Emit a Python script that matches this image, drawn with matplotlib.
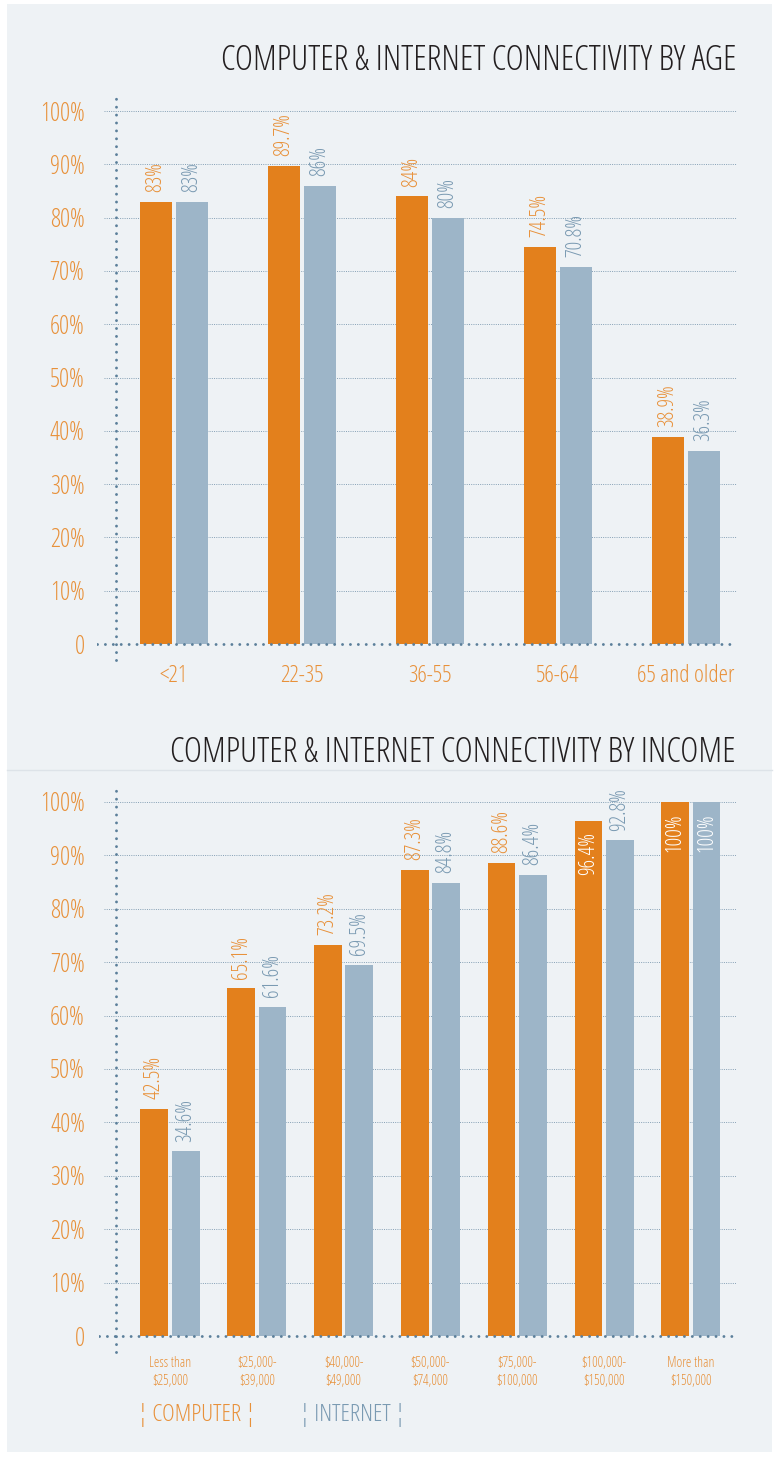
import matplotlib
matplotlib.use('Agg')
import matplotlib.pyplot as plt
from matplotlib.patches import Rectangle
from matplotlib.lines import Line2D
import numpy as np

# Open Sans Condensed Light is registered under "Open Sans"
plt.rcParams['font.family'] = ['Open Sans', 'DejaVu Sans']
plt.rcParams['font.weight'] = 300
plt.rcParams['font.stretch'] = 'condensed'

# data
age_groups = ['<21', '22-35', '36-55', '56-64', '65 and older']
age_computer = [83, 89.7, 84, 74.5, 38.9]
age_internet = [83, 86, 80, 70.8, 36.3]

income_groups = ['Less than\n$25,000', '$25,000-\n$39,000', '$40,000-\n$49,000',
                 '$50,000-\n$74,000', '$75,000-\n$100,000', '$100,000-\n$150,000',
                 'More than\n$150,000']
income_computer = [42.5, 65.1, 73.2, 87.3, 88.6, 96.4, 100]
income_internet = [34.6, 61.6, 69.5, 84.8, 86.4, 92.8, 100]

y_ticks = [0, 10, 20, 30, 40, 50, 60, 70, 80, 90, 100]
y_labels = ['0'] + ['%d%%' % v for v in y_ticks[1:]]

# colours
ORANGE = '#e3801c'
BLUE = '#9db5c8'
ORANGE_TXT = '#e8913a'
BLUE_TXT = '#7a9ab2'
DOTS = '#5b7f9a'
GRID = '#85a0b5'
PANEL = '#eef2f5'

fig = plt.figure(figsize=(7.8, 14.58), dpi=100)
fig.patch.set_facecolor('white')
fig.patches.append(Rectangle((7/780, 1 - 1452/1458), 765/780, 1448/1458,
                             transform=fig.transFigure, facecolor=PANEL,
                             edgecolor='none', zorder=-10))
fig.lines.append(Line2D([7/780, 772/780], [1 - 770/1458] * 2, transform=fig.transFigure,
                        color='#dde3e8', lw=1))


def draw_chart(ax, cats, comp, inet, width, offset, xlim, axis_x, grid_x0,
               tick_size, ypad, xpad):
    ax.set_facecolor('none')
    for s in ax.spines.values():
        s.set_visible(False)
    x = np.arange(len(cats))
    ax.set_xlim(*xlim)
    ax.set_ylim(-3.5, 104)

    # grid lines
    for v in y_ticks[1:]:
        ax.plot([grid_x0, xlim[1]], [v, v], color=GRID, lw=0.7,
                linestyle=(0, (1, 1.3)), zorder=1)

    ax.bar(x - offset, comp, width, color=ORANGE, zorder=2)
    ax.bar(x + offset, inet, width, color=BLUE, zorder=2)

    # dotted axes
    ax.plot([xlim[0], xlim[1]], [0, 0], color=DOTS, lw=2.1,
            linestyle=(0, (0.01, 2.7)), dash_capstyle='round', zorder=3)
    ax.plot([axis_x, axis_x], [-3, 103.3], color=DOTS, lw=2.1,
            linestyle=(0, (0.01, 2.7)), dash_capstyle='round', zorder=3)

    # value labels
    for xs, vals, col in ((x - offset, comp, ORANGE_TXT), (x + offset, inet, BLUE_TXT)):
        for xi, v in zip(xs, vals):
            txt = '%g%%' % v
            if v > 95:
                ax.annotate(txt, (xi, v), xytext=(0, -8), textcoords='offset points',
                            rotation=90, ha='center', va='top', color='white',
                            fontsize=15.5, zorder=4)
            else:
                ax.annotate(txt, (xi, v), xytext=(0, 7), textcoords='offset points',
                            rotation=90, ha='center', va='bottom', color=col,
                            fontsize=15.5, zorder=4)

    ax.set_yticks(y_ticks)
    ax.set_yticklabels(y_labels, color=ORANGE_TXT, fontsize=18)
    ax.set_xticks(x)
    ax.set_xticklabels(cats, color=ORANGE_TXT, fontsize=tick_size, linespacing=1.25)
    ax.tick_params(axis='y', length=0, pad=ypad)
    ax.tick_params(axis='x', length=0, pad=xpad)


ax1 = fig.add_axes([97/780, 1 - 662.7/1458, 640/780, 573/1458])
draw_chart(ax1, age_groups, age_computer, age_internet, 0.25, 0.14,
           (-0.6, 4.4), (116 - 174) / 128, (104 - 174) / 128, 17, 9, 1)

ax2 = fig.add_axes([98.8/780, 1 - 1354.7/1458, 637.2/780, 574.1/1458])
draw_chart(ax2, income_groups, income_computer, income_internet, 0.32, 0.18,
           (-0.82, 6.52), (116 - 170) / 86.8, (104 - 170) / 86.8, 10, 10, 1)

fig.text(736/780, 1 - 61/1458, 'COMPUTER & INTERNET CONNECTIVITY BY AGE',
         ha='right', va='center', fontsize=25, color='#231f20')
fig.text(736/780, 1 - 753/1458, 'COMPUTER & INTERNET CONNECTIVITY BY INCOME',
         ha='right', va='center', fontsize=25, color='#231f20')

fig.text(138/780, 1 - 1415/1458, '\u00a6 COMPUTER \u00a6', ha='left', va='center',
         fontsize=17.5, color=ORANGE_TXT)
fig.text(300/780, 1 - 1415/1458, '\u00a6 INTERNET \u00a6', ha='left', va='center',
         fontsize=17.5, color=BLUE_TXT)

fig.savefig('out.png', dpi=100, facecolor='white')
